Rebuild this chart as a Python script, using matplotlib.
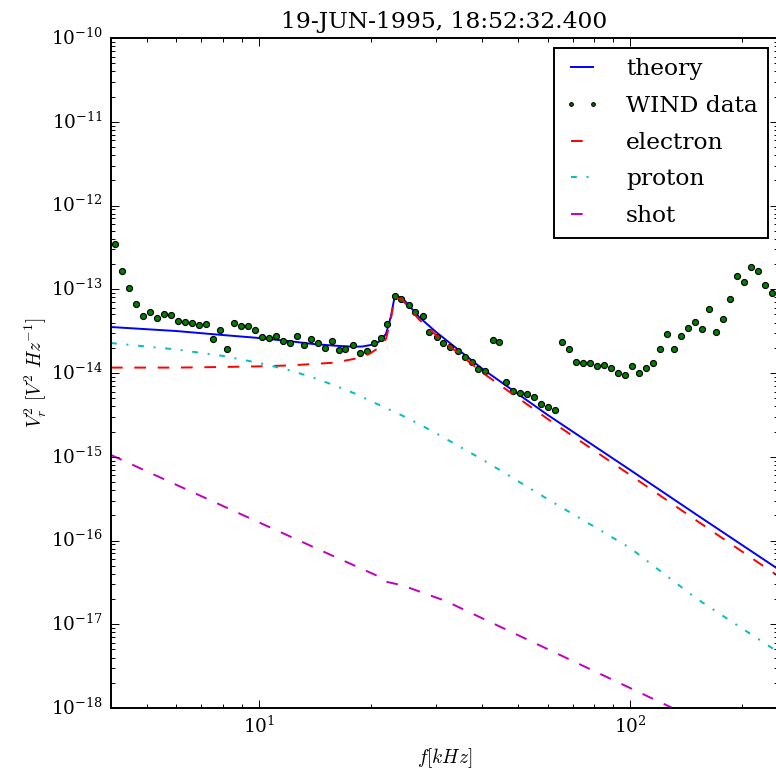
import matplotlib
matplotlib.use('Agg')
import matplotlib.pyplot as plt

plt.style.use('classic')
plt.rcParams['font.family'] = 'serif'
plt.rcParams['font.serif'] = ['DejaVu Serif']
plt.rcParams['mathtext.fontset'] = 'cm'
plt.rcParams['savefig.facecolor'] = 'white'

# WIND/TNR spectrum (kHz, V^2/Hz)
wind_freq = [4.10, 4.28, 4.47, 4.67, 4.88, 5.09, 5.32, 5.55, 5.80, 6.06, 6.33, 6.61, 6.90, 7.21, 7.53, 7.86,
             8.20, 8.56, 8.94, 9.34, 9.75, 10.19, 10.64, 11.11, 11.60, 12.12, 12.65, 13.21, 13.80, 14.41, 15.05, 15.72,
             16.4, 17.1, 17.9, 18.7, 19.5, 20.4, 21.3, 22.2, 23.2, 24.2, 25.3, 26.4, 27.6, 28.8, 30.1, 31.4,
             32.8, 34.3, 35.8, 37.4, 39.0, 40.7, 42.6, 44.4, 46.4, 48.5, 50.6, 52.9, 55.2, 57.6, 60.2, 62.9,
             65.6, 68.5, 71.5, 74.7, 78.0, 81.5, 85.1, 88.9, 92.8, 96.9, 101.2, 105.7, 110.4, 115.3, 120.4, 125.7,
             131.2, 137.0, 143.1, 149.4, 156.1, 163.0, 170.2, 177.8, 185.7, 193.9, 202.5, 211.5, 220.8, 230.6, 240.8, 251.5]
wind_data = [3.44e-13, 1.67e-13, 1.04e-13, 6.71e-14, 4.80e-14, 5.31e-14, 4.57e-14, 5.02e-14,
             4.89e-14, 4.18e-14, 4.06e-14, 3.92e-14, 3.72e-14, 3.88e-14, 2.52e-14, 3.29e-14,
             1.92e-14, 3.99e-14, 3.64e-14, 3.64e-14, 3.26e-14, 2.71e-14, 2.64e-14, 2.74e-14,
             2.41e-14, 2.28e-14, 2.77e-14, 2.14e-14, 2.55e-14, 2.28e-14, 1.97e-14, 2.43e-14,
             1.88e-14, 1.92e-14, 2.14e-14, 1.72e-14, 1.85e-14, 2.28e-14, 2.64e-14, 3.88e-14,
             8.30e-14, 7.59e-14, 6.43e-14, 5.40e-14, 4.80e-14, 3.11e-14, 2.71e-14, 2.28e-14,
             2.06e-14, 1.85e-14, 1.55e-14, 1.36e-14, 1.12e-14, 1.06e-14, 2.45e-14, 2.33e-14,
             7.74e-15, 6.04e-15, 5.77e-15, 5.61e-15, 5.21e-15, 4.27e-15, 3.89e-15, 3.59e-15,
             2.34e-14, 1.92e-14, 1.34e-14, 1.31e-14, 1.31e-14, 1.21e-14, 1.24e-14, 1.15e-14,
             1.01e-14, 9.55e-15, 1.22e-14, 1.01e-14, 1.16e-14, 1.31e-14, 1.92e-14, 2.92e-14,
             1.92e-14, 2.79e-14, 3.48e-14, 4.03e-14, 3.33e-14, 5.86e-14, 3.09e-14, 4.38e-14,
             7.71e-14, 1.45e-13, 1.21e-13, 1.85e-13, 1.64e-13, 1.13e-13, 8.95e-14, 1.67e-13]

# model curves
model_freq = [4, 6, 8, 10, 12, 14, 16, 18, 19, 20, 21, 22, 22.7, 23.2, 24.2, 25.3, 27, 30, 40, 60, 100, 150, 250]
theory = [3.54e-14, 3.17e-14, 2.84e-14, 2.62e-14, 2.41e-14, 2.22e-14, 2.12e-14, 2.06e-14, 2.07e-14,
          2.16e-14, 2.34e-14, 2.92e-14, 4.80e-14, 8.08e-14, 8.08e-14, 6.49e-14, 4.67e-14, 3.09e-14,
          1.12e-14, 3.15e-15, 6.95e-16, 2.07e-16, 4.57e-17]
electron = [1.16e-14, 1.16e-14, 1.18e-14, 1.20e-14, 1.23e-14, 1.28e-14, 1.33e-14, 1.47e-14, 1.55e-14,
            1.73e-14, 1.99e-14, 2.55e-14, 4.54e-14, 7.87e-14, 7.65e-14, 6.14e-14, 4.35e-14, 2.84e-14,
            1.01e-14, 2.82e-15, 6.05e-16, 1.76e-16, 3.77e-17]

proton_freq = [4, 6, 8, 10, 12, 14, 16, 18, 20, 22, 25.3, 30, 40, 60, 100, 150, 250]
proton = [2.28e-14, 1.91e-14, 1.60e-14, 1.32e-14, 1.09e-14, 8.83e-15, 7.10e-15, 5.77e-15, 4.63e-15,
          3.82e-15, 2.86e-15, 1.91e-15, 9.27e-16, 3.11e-16, 8.13e-17, 2.06e-17, 4.67e-18]

shot_freq = [4, 6, 10, 16, 20.9, 22.2, 23.9, 25.6, 31.8, 100, 250]
shot = [1.05e-15, 4.62e-16, 1.65e-16, 6.41e-17, 3.77e-17, 3.19e-17, 2.97e-17, 2.69e-17, 1.90e-17,
        1.73e-18, 2.54e-19]

x_major = [10, 100]
y_major = [1e-18, 1e-17, 1e-16, 1e-15, 1e-14, 1e-13, 1e-12, 1e-11, 1e-10]

dpi = 140
fig = plt.figure(figsize=(776 / dpi, 776 / dpi), dpi=dpi)
ax = fig.add_axes([111 / 776, 68 / 776, 667 / 776, 670 / 776])

ax.loglog(model_freq, theory, 'b-', label='theory')
ax.loglog(wind_freq, wind_data, 'go', markersize=3.1, markeredgewidth=0.6,
          markeredgecolor='k', label='WIND data')
ax.loglog(model_freq, electron, 'r--', dashes=(6, 6), label='electron')
ax.loglog(proton_freq, proton, 'c-.', dashes=(3, 5, 1, 5), label='proton')
ax.loglog(shot_freq, shot, 'm--', dashes=(6, 6), label='shot')

ax.set_xlim(4, 250)
ax.set_ylim(1e-18, 1e-10)
ax.set_xticks(x_major)
ax.set_yticks(y_major)
ax.tick_params(labelsize=9.5)
ax.set_xlabel(r'$f[kHz]$', fontsize=10)
ax.set_ylabel(r'$V_r^2\ [V^2\ Hz^{-1}]$', fontsize=10, labelpad=1)
ax.set_title('19-JUN-1995, 18:52:32.400', fontsize=12)
ax.legend(loc='upper right', fontsize=12, markerscale=0.6, labelspacing=0.63,
          handlelength=1.55, handletextpad=1.1, borderpad=0.45, borderaxespad=0.42)

fig.savefig('out.png', dpi=dpi)
